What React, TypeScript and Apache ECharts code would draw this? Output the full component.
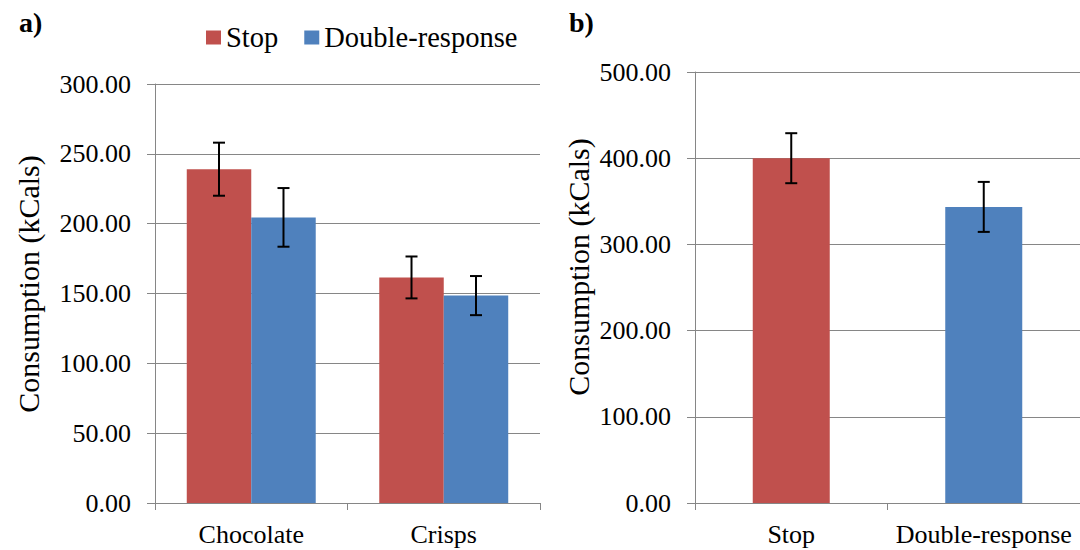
import React, { useEffect, useRef } from 'react';
import * as echarts from 'echarts';

// ---- Data ----
const foodCategories = ['Chocolate', 'Crisps'];
const stopMeans = [239, 161.5];
const stopErrors = [19, 15];
const doubleMeans = [204.5, 148.5];
const doubleErrors = [21, 14];

const overallConditions = ['Stop', 'Double-response'];
const overallMeans = [400, 343.5];
const overallErrors = [29, 29];

const leftAxisRange = { min: 0, max: 300, step: 50 };
const rightAxisRange = { min: 0, max: 500, step: 100 };

const seriesNames = ['Stop', 'Double-response'];
const panelLabels = ['a)', 'b)'];
const yAxisTitle = 'Consumption (kCals)';

// ---- Styles ----
const RED = '#C0504D';
const BLUE = '#4F81BD';
const GRAY = '#868686';
const FONT = "'Liberation Serif', 'Times New Roman', serif";

const errorRenderer = (offsetFactor: number) => (params: any, api: any) => {
  const x = api.value(0);
  const v = api.value(1);
  const e = api.value(2);
  const band = api.size([1, 0])[0];
  const hi = api.coord([x, v + e]);
  const lo = api.coord([x, v - e]);
  const cx = hi[0] + band * offsetFactor;
  const cap = 6;
  const style = { stroke: '#000', lineWidth: 2 };
  return {
    type: 'group',
    children: [
      { type: 'line', shape: { x1: cx, y1: hi[1], x2: cx, y2: lo[1] }, style },
      { type: 'line', shape: { x1: cx - cap, y1: hi[1], x2: cx + cap, y2: hi[1] }, style },
      { type: 'line', shape: { x1: cx - cap, y1: lo[1], x2: cx + cap, y2: lo[1] }, style },
    ],
  };
};

const makeY = (range: any, gridIndex: number, nameGap: number, namePad: number) => ({
  type: 'value',
  gridIndex,
  min: range.min,
  max: range.max,
  interval: range.step,
  name: yAxisTitle,
  nameLocation: 'middle',
  nameGap,
  nameTextStyle: { fontFamily: FONT, fontSize: 30, color: '#000', padding: [0, 0, 0, namePad] },
  axisLine: { show: true, lineStyle: { color: GRAY, width: 1 } },
  axisTick: { show: true, length: 8, inside: false, lineStyle: { color: GRAY } },
  splitLine: { show: true, lineStyle: { color: GRAY, width: 1 } },
  axisLabel: {
    fontFamily: FONT,
    fontSize: 26,
    color: '#000',
    margin: 24,
    formatter: (v: number) => v.toFixed(2),
  },
});

const makeX = (cats: string[], gridIndex: number) => ({
  type: 'category',
  gridIndex,
  data: cats,
  axisLine: { show: true, lineStyle: { color: GRAY, width: 1 } },
  axisTick: { show: true, length: 7, alignWithLabel: false, lineStyle: { color: GRAY } },
  axisLabel: { fontFamily: FONT, fontSize: 26, color: '#000', margin: 18, interval: 0 },
  splitLine: { show: false },
});

export default function App() {
  const ref = useRef<HTMLDivElement>(null);

  useEffect(() => {
    document.body.style.margin = '0';
    if (!ref.current) return;
    const chart = echarts.init(ref.current, undefined, { renderer: 'svg' });
    const option: any = {
      animation: false,
      backgroundColor: '#fff',
      title: [
        { text: panelLabels[0], left: 19, top: 8, padding: 0, textStyle: { fontFamily: FONT, fontSize: 28, fontWeight: 'bold', color: '#000' } },
        { text: panelLabels[1], left: 569, top: 8, padding: 0, textStyle: { fontFamily: FONT, fontSize: 28, fontWeight: 'bold', color: '#000' } },
      ],
      legend: {
        data: seriesNames.map((n) => ({ name: n, icon: 'rect' })),
        left: 206,
        top: 23,
        padding: 0,
        itemWidth: 15,
        itemHeight: 14,
        itemGap: 26,
        textStyle: { fontFamily: FONT, fontSize: 28.5, color: '#000' },
      },
      grid: [
        { left: 155, top: 84, width: 385, height: 419, containLabel: false },
        { left: 695, top: 72, width: 385, height: 431, containLabel: false },
      ],
      xAxis: [makeX(foodCategories, 0), makeX(overallConditions, 1)],
      yAxis: [makeY(leftAxisRange, 0, 112, 19), makeY(rightAxisRange, 1, 102, 41)],
      series: [
        {
          name: seriesNames[0],
          type: 'bar',
          xAxisIndex: 0,
          yAxisIndex: 0,
          data: stopMeans,
          itemStyle: { color: RED },
          barGap: '0%',
          barCategoryGap: '33%',
        },
        {
          name: seriesNames[1],
          type: 'bar',
          xAxisIndex: 0,
          yAxisIndex: 0,
          data: doubleMeans,
          itemStyle: { color: BLUE },
          barGap: '0%',
          barCategoryGap: '33%',
        },
        {
          name: 'overall',
          type: 'bar',
          xAxisIndex: 1,
          yAxisIndex: 1,
          data: overallMeans.map((v, i) => ({ value: v, itemStyle: { color: i === 0 ? RED : BLUE } })),
          barCategoryGap: '60%',
        },
        {
          name: 'stopErr',
          type: 'custom',
          xAxisIndex: 0,
          yAxisIndex: 0,
          z: 5,
          renderItem: errorRenderer(-0.1675),
          encode: { x: 0, y: 1 },
          data: stopMeans.map((v, i) => [i, v, stopErrors[i]]),
        },
        {
          name: 'doubleErr',
          type: 'custom',
          xAxisIndex: 0,
          yAxisIndex: 0,
          z: 5,
          renderItem: errorRenderer(0.1675),
          encode: { x: 0, y: 1 },
          data: doubleMeans.map((v, i) => [i, v, doubleErrors[i]]),
        },
        {
          name: 'overallErr',
          type: 'custom',
          xAxisIndex: 1,
          yAxisIndex: 1,
          z: 5,
          renderItem: errorRenderer(0),
          encode: { x: 0, y: 1 },
          data: overallMeans.map((v, i) => [i, v, overallErrors[i]]),
        },
      ],
    };
    chart.setOption(option);
    return () => chart.dispose();
  }, []);

  return <div ref={ref} style={{ width: 1080, height: 550 }} />;
}
